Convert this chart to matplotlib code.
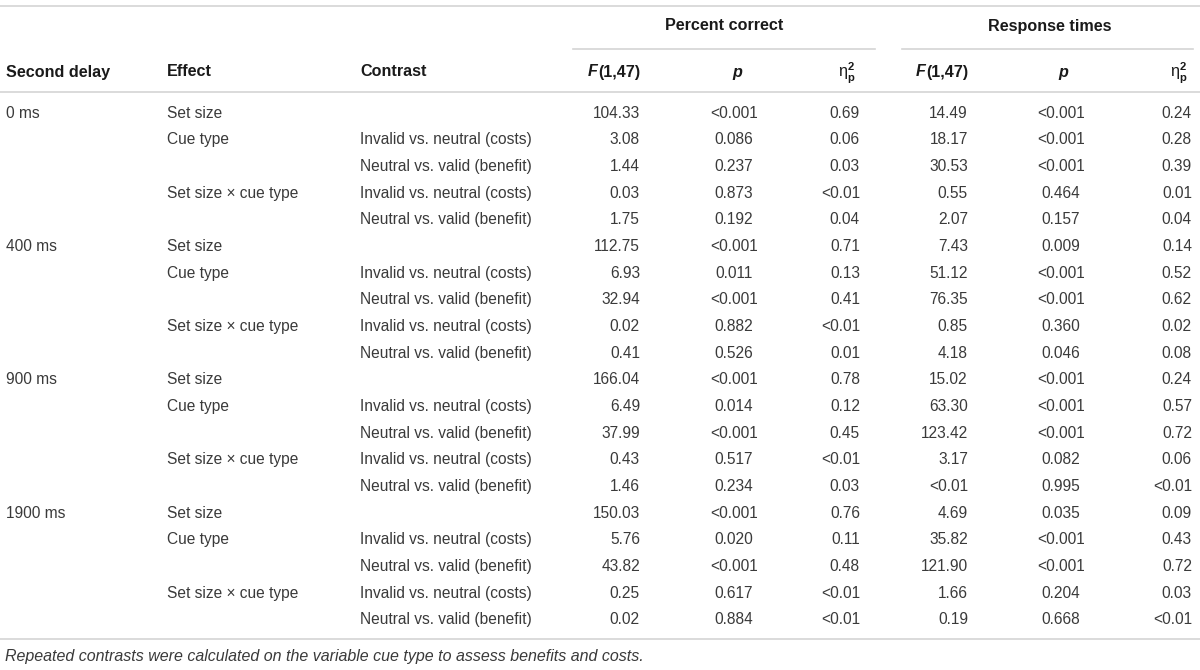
import matplotlib
matplotlib.use('Agg')
import matplotlib.pyplot as plt

plt.rcParams['font.family'] = ['Liberation Sans', 'DejaVu Sans']
plt.rcParams['mathtext.fontset'] = 'custom'
plt.rcParams['mathtext.rm'] = 'Liberation Sans'
plt.rcParams['mathtext.it'] = 'Liberation Sans:italic'
plt.rcParams['mathtext.bf'] = 'Liberation Sans:bold'

# dados da tabela
delays = ['0 ms', '400 ms', '900 ms', '1900 ms']
effects = ['Set size', 'Cue type', '', 'Set size × cue type', '']
contrasts = ['', 'Invalid vs. neutral (costs)', 'Neutral vs. valid (benefit)',
             'Invalid vs. neutral (costs)', 'Neutral vs. valid (benefit)']

pc_f = ['104.33', '3.08', '1.44', '0.03', '1.75',
        '112.75', '6.93', '32.94', '0.02', '0.41',
        '166.04', '6.49', '37.99', '0.43', '1.46',
        '150.03', '5.76', '43.82', '0.25', '0.02']
pc_p = ['<0.001', '0.086', '0.237', '0.873', '0.192',
        '<0.001', '0.011', '<0.001', '0.882', '0.526',
        '<0.001', '0.014', '<0.001', '0.517', '0.234',
        '<0.001', '0.020', '<0.001', '0.617', '0.884']
pc_eta = ['0.69', '0.06', '0.03', '<0.01', '0.04',
          '0.71', '0.13', '0.41', '<0.01', '0.01',
          '0.78', '0.12', '0.45', '<0.01', '0.03',
          '0.76', '0.11', '0.48', '<0.01', '<0.01']

rt_f = ['14.49', '18.17', '30.53', '0.55', '2.07',
        '7.43', '51.12', '76.35', '0.85', '4.18',
        '15.02', '63.30', '123.42', '3.17', '<0.01',
        '4.69', '35.82', '121.90', '1.66', '0.19']
rt_p = ['<0.001', '<0.001', '<0.001', '0.464', '0.157',
        '0.009', '<0.001', '<0.001', '0.360', '0.046',
        '<0.001', '<0.001', '<0.001', '0.082', '0.995',
        '0.035', '<0.001', '<0.001', '0.204', '0.668']
rt_eta = ['0.24', '0.28', '0.39', '0.01', '0.04',
          '0.14', '0.52', '0.62', '0.02', '0.08',
          '0.24', '0.57', '0.72', '0.06', '<0.01',
          '0.09', '0.43', '0.72', '0.03', '<0.01']

groups = ['Percent correct', 'Response times']
nota = 'Repeated contrasts were calculated on the variable cue type to assess benefits and costs.'

# figura em coordenadas de pixel
fig = plt.figure(figsize=(12, 6.7), dpi=100)
ax = fig.add_axes([0, 0, 1, 1])
ax.set_xlim(0, 1200)
ax.set_ylim(670, 0)
ax.axis('off')

cor_txt = '#3a3a3a'
cor_head = '#1a1a1a'
cor_linha = '#d4d4d4'
fs = 11.2
fs_h = 11.6

# linhas
for y in [6, 92, 639]:
    ax.plot([0, 1200], [y, y], color=cor_linha, lw=1.2, solid_capstyle='butt')
ax.plot([573, 875], [49, 49], color=cor_linha, lw=1.2)
ax.plot([902, 1193], [49, 49], color=cor_linha, lw=1.2)

# cabecalho de grupo
ax.text(724, 26, groups[0], ha='center', va='center', fontsize=fs_h, fontweight='bold', color=cor_head)
ax.text(1050, 26, groups[1], ha='center', va='center', fontsize=fs_h, fontweight='bold', color=cor_head)

# cabecalho de colunas
hy = 72
ax.text(6, hy, 'Second delay', ha='left', va='center', fontsize=fs_h, fontweight='bold', color=cor_head)
ax.text(167, hy, 'Effect', ha='left', va='center', fontsize=fs_h, fontweight='bold', color=cor_head)
ax.text(360, hy, 'Contrast', ha='left', va='center', fontsize=fs_h, fontweight='bold', color=cor_head)

for xf, xp, xe in [(640, 737, 856), (968, 1063, 1188)]:
    t = ax.text(xf, hy, '(1,47)', ha='right', va='center', fontsize=fs_h, fontweight='bold', color=cor_head)
    ax.annotate('F', xy=(0, 0.5), xycoords=t, ha='right', va='center', fontsize=fs_h,
                fontweight='bold', fontstyle='italic', color=cor_head)
    ax.text(xp, hy, 'p', ha='center', va='center', fontsize=fs_h, fontweight='bold',
            fontstyle='italic', color=cor_head)
    ax.text(xe, hy + 1, r'$\mathrm{\eta}^{\mathbf{2}}_{\mathbf{p}}$', ha='right', va='center',
            fontsize=fs_h, color=cor_head)

# linhas de dados
y0 = 113
dy = 26.68
for i in range(20):
    y = y0 + i * dy
    if i % 5 == 0:
        ax.text(6, y, delays[i // 5], ha='left', va='center', fontsize=fs, color=cor_txt)
    ax.text(167, y, effects[i % 5], ha='left', va='center', fontsize=fs, color=cor_txt)
    ax.text(360, y, contrasts[i % 5], ha='left', va='center', fontsize=fs, color=cor_txt)
    ax.text(640, y, pc_f[i], ha='right', va='center', fontsize=fs, color=cor_txt)
    ax.text(734, y, pc_p[i], ha='center', va='center', fontsize=fs, color=cor_txt)
    ax.text(860, y, pc_eta[i], ha='right', va='center', fontsize=fs, color=cor_txt)
    ax.text(968, y, rt_f[i], ha='right', va='center', fontsize=fs, color=cor_txt)
    ax.text(1061, y, rt_p[i], ha='center', va='center', fontsize=fs, color=cor_txt)
    ax.text(1192, y, rt_eta[i], ha='right', va='center', fontsize=fs, color=cor_txt)

# nota de rodape
ax.text(5, 656, nota, ha='left', va='center', fontsize=11.55, fontstyle='italic', color=cor_txt)

fig.savefig('out.png', dpi=100)
